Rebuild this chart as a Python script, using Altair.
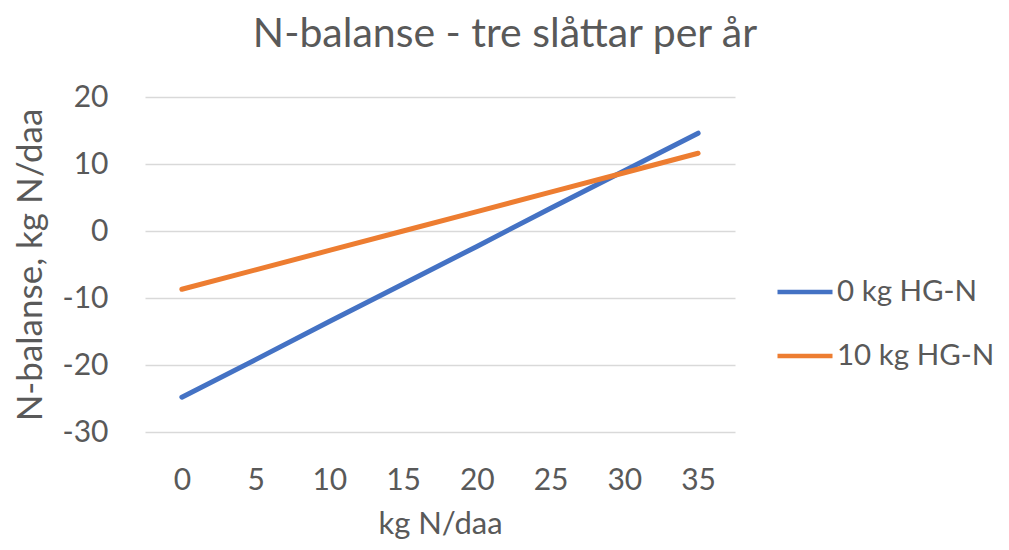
import altair as alt
import pandas as pd

x_vals = [0, 5, 10, 15, 20, 25, 30, 35]
blue_vals = [-24.8, -19.2, -13.5, -7.9, -2.3, 3.4, 9.0, 14.6]
orange_vals = [-8.7, -5.8, -2.9, 0.0, 2.9, 5.8, 8.7, 11.6]
series_names = ["0 kg HG-N", "10 kg HG-N"]
colors = ["#4472C4", "#ED7D31"]
y_ticks = [-30, -20, -10, 0, 10, 20]

rows = []
for x, b, o in zip(x_vals, blue_vals, orange_vals):
    rows.append({"x": x, "y": b, "s": series_names[0]})
    rows.append({"x": x, "y": o, "s": series_names[1]})
df = pd.DataFrame(rows)

FONT = "Lato"
GRAY = "#595959"

chart = alt.Chart(df).mark_line(strokeWidth=5, strokeCap="round").encode(
    x=alt.X("x:Q", scale=alt.Scale(domain=[-2.5, 37.5], nice=False, zero=False),
            axis=alt.Axis(values=x_vals, grid=False, domain=False, ticks=False,
                          title="kg N/daa", labelFontSize=30, titleFontSize=31,
                          labelColor=GRAY, titleColor=GRAY, labelFont=FONT, titleFont=FONT,
                          titleFontWeight="normal", labelPadding=33, titlePadding=14)),
    y=alt.Y("y:Q", scale=alt.Scale(domain=[-30, 20], nice=False),
            axis=alt.Axis(values=y_ticks, grid=True, gridColor="#D9D9D9",
                          gridWidth=1.5, domain=False, ticks=False,
                          labelExpr="replace(datum.label, '\u2212', '-')",
                          title="N-balanse, kg N/daa", labelFontSize=30, titleFontSize=35,
                          labelColor=GRAY, titleColor=GRAY, labelFont=FONT, titleFont=FONT,
                          titleFontWeight="normal", labelPadding=37, titlePadding=14)),
    color=alt.Color("s:N", scale=alt.Scale(domain=series_names, range=colors),
                    legend=alt.Legend(title=None, orient="none", legendX=630, legendY=165,
                                      symbolType="stroke", symbolSize=3025, symbolStrokeWidth=4.5,
                                      labelFontSize=29.5, labelFont=FONT, labelColor=GRAY,
                                      labelLimit=400, rowPadding=19, labelOffset=2)),
).properties(
    width=590, height=335,
    title=alt.TitleParams("N-balanse - tre slåttar per år", fontSize=41, font=FONT,
                          color=GRAY, fontWeight="normal", anchor="middle", offset=26, dx=65),
    autosize=alt.AutoSizeParams(type="none"),
    padding={"left": 137, "top": 89, "right": 266, "bottom": 110},
).configure_view(stroke=None)

chart.save("out.html", embed_options={"renderer": "svg", "actions": False})
